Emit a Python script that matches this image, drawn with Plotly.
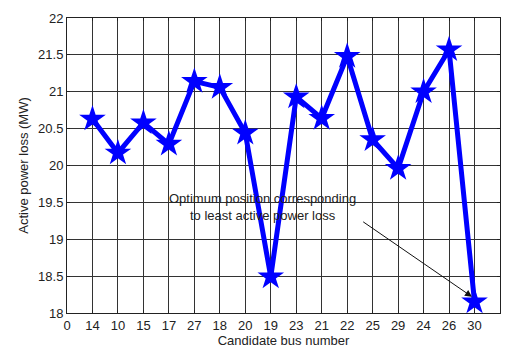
import plotly.graph_objects as go

tick_labels = ["0", "14", "10", "15", "17", "27", "18", "20", "19", "23", "21", "22", "25", "29", "24", "26", "30"]
bus_labels = ["14", "10", "15", "17", "27", "18", "20", "19", "23", "21", "22", "25", "29", "24", "26", "30"]
loss_mw = [20.63, 20.17, 20.58, 20.29, 21.14, 21.06, 20.44, 18.49, 20.93, 20.64, 21.48, 20.35, 19.96, 21.0, 21.57, 18.15]

xpos = list(range(1, len(bus_labels) + 1))

fig = go.Figure()
fig.add_trace(go.Scatter(
    x=xpos, y=loss_mw, mode="lines+markers",
    line=dict(color="#0000ff", width=5),
    marker=dict(symbol="star", size=20, color="#0000ff"),
    showlegend=False, hoverinfo="skip"))

font = dict(family="Liberation Sans, Arial, sans-serif", size=13, color="#222")

fig.update_layout(
    width=516, height=357,
    margin=dict(l=67, r=16, t=18, b=44),
    paper_bgcolor="white", plot_bgcolor="white",
    font=font,
    xaxis=dict(range=[0, 17], tickmode="array", tickvals=list(range(len(tick_labels))),
               ticktext=tick_labels, showgrid=True, gridcolor="#333", gridwidth=1,
               zeroline=False, showline=True, linecolor="#222", linewidth=1, mirror="ticks",
               ticks="inside", ticklen=3, tickcolor="#222",
               title=dict(text="Candidate bus number", font=font, standoff=2)),
    yaxis=dict(range=[18, 22], tickmode="array", tickvals=[18, 18.5, 19, 19.5, 20, 20.5, 21, 21.5, 22],
               ticktext=["18", "18.5", "19", "19.5", "20", "20.5", "21", "21.5", "22"],
               showgrid=True, gridcolor="#333", gridwidth=1, zeroline=False,
               showline=True, linecolor="#222", linewidth=1, mirror="ticks",
               ticks="inside", ticklen=3, tickcolor="#222",
               title=dict(text="Active power loss (MW)", font=font, standoff=6)),
)

fig.add_annotation(x=7.69, y=19.44, xref="x", yref="y",
                   text="Optimum position corresponding<br>to least active power loss",
                   showarrow=False, align="center", font=font)
fig.add_annotation(x=15.9, y=18.22, xref="x", yref="y", ax=11.57, ay=19.25,
                   axref="x", ayref="y", text="", showarrow=True,
                   arrowhead=2, arrowsize=1.4, arrowwidth=1, arrowcolor="#111")

fig.write_html("out.html")
